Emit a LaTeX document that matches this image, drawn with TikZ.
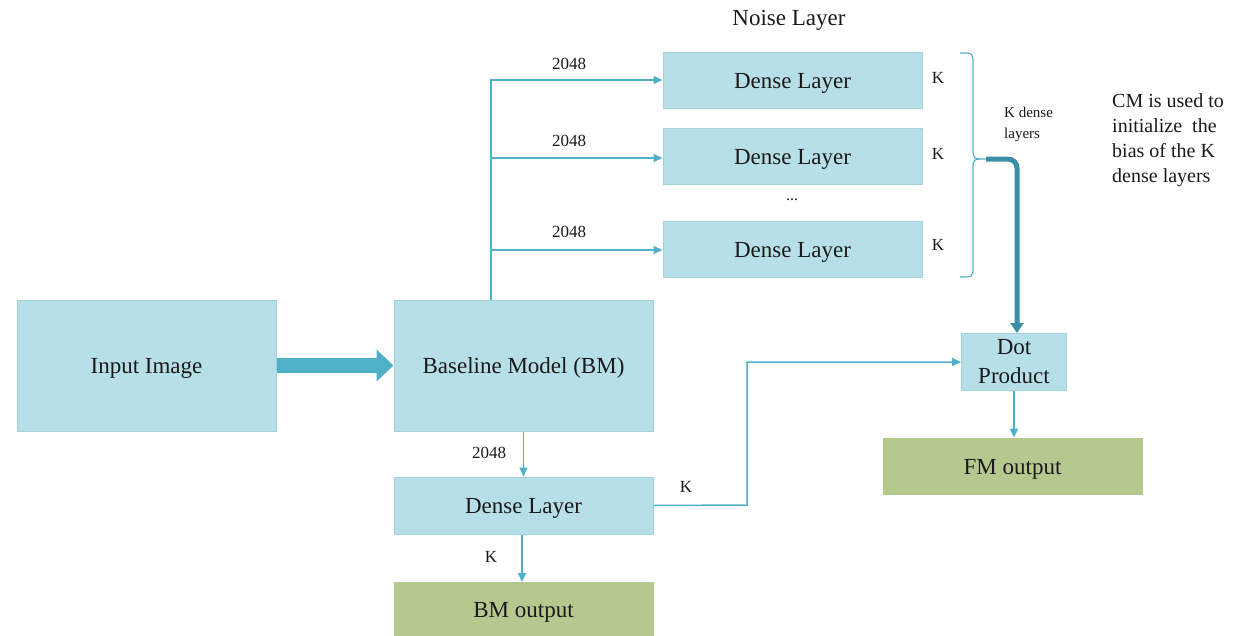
\documentclass[tikz,border=0pt]{standalone}
\usepackage{fontspec}
\setmainfont{Liberation Serif}
\usetikzlibrary{arrows.meta}
\definecolor{boxblue}{HTML}{B7DFE8}
\definecolor{boxedge}{HTML}{A2D3DE}
\definecolor{boxgreen}{HTML}{B5C98F}
\definecolor{linkblue}{HTML}{4FB1C8}
\definecolor{darkteal}{HTML}{3A8FA6}
\definecolor{ink}{HTML}{1A1A1A}
\tikzset{
  bluebox/.style={draw=boxedge, line width=1pt, fill=boxblue, inner sep=0pt, text=ink,
    font=\fontsize{23}{28}\selectfont},
  greenbox/.style={draw=boxgreen, line width=0.6pt, fill=boxgreen, inner sep=0pt, text=ink,
    font=\fontsize{23}{28}\selectfont},
  oneline/.style={text height=16pt, text depth=0pt},
  link/.style={draw=linkblue, line width=1.5pt, -{Triangle[length=9pt,width=8pt]}},
  plainlink/.style={draw=linkblue, line width=1.5pt},
  lbl/.style={text=ink, font=\fontsize{17}{20}\selectfont, inner sep=0pt},
}
\begin{document}
\begin{tikzpicture}[x=1pt, y=-1pt]
\useasboundingbox (0,0) rectangle (1243,635);

% main boxes
\node[bluebox, oneline, minimum width=259pt, minimum height=131pt] (in) at (146.5,365.5) {Input Image};
\node[bluebox, oneline, minimum width=259pt, minimum height=131pt] (bm) at (523.5,365.5) {Baseline Model (BM)};
\node[bluebox, oneline, minimum width=259pt, minimum height=57pt] (dl) at (523.5,505.5) {Dense Layer};
\node[greenbox, oneline, minimum width=259pt, minimum height=54pt, anchor=north] (bmo) at (523.5,582) {BM output};

% noise layer
\node[text=ink, font=\fontsize{23}{28}\selectfont] (nl) at (789,20) {Noise Layer};
\node[bluebox, oneline, minimum width=259pt, minimum height=56pt] (d1) at (792.5,80) {Dense Layer};
\node[bluebox, oneline, minimum width=259pt, minimum height=56pt] (d2) at (792.5,156.5) {Dense Layer};
\node[bluebox, oneline, minimum width=259pt, minimum height=56pt] (d3) at (792.5,249) {Dense Layer};
\node[text=ink, font=\fontsize{16}{18}\selectfont] (dots) at (792,200) {...};

% right part
\node[bluebox, minimum width=105pt, minimum height=57pt, align=center,
      font=\fontsize{23}{29}\selectfont] (dot) at (1014,362) {Dot\\Product};
\node[greenbox, oneline, minimum width=259pt, minimum height=56pt] (fm) at (1012.5,466) {FM output};

% fat arrow from input to baseline
\draw[draw=linkblue, line width=15pt, -{Triangle[length=17pt,width=31pt]}] (in.east) -- (bm.west);

% branches from the baseline model to the noise layer
\coordinate (split) at (491,300);
\draw[plainlink] (split) -- (491,80);
\draw[link] (split) |- (d1.west);
\draw[link] (491,158) -- (d2.west |- 0,158);
\draw[link] (491,250) -- (d3.west |- 0,250);
\node[lbl] (t1) at (569,64) {2048};
\node[lbl] (t2) at (569,141) {2048};
\node[lbl] (t3) at (569,232) {2048};

% K labels next to the noise dense layers
\node[lbl] (k1) at (938,78) {K};
\node[lbl] (k2) at (938,154) {K};
\node[lbl] (k3) at (938,245) {K};

% brace grouping the K dense layers
\coordinate (btop) at (960,53);
\coordinate (bbot) at (960,277);
\coordinate (btip) at (986,159);
\draw[draw=linkblue, line width=1.2pt]
  (btop) .. controls (973,53) .. (973,64) -- (973,148)
  .. controls (973,159) .. (btip)
  .. controls (973,159) .. (973,170) -- (973,266)
  .. controls (973,277) .. (bbot);
\node[text=ink, font=\fontsize{15}{21}\selectfont, align=left, anchor=west, inner sep=0pt] (kd) at (1004,124) {K dense\\layers};

% thick arrow from the brace to the dot product
\draw[draw=darkteal, line width=5pt, rounded corners=9pt, -{Triangle[length=10pt,width=13pt]}]
  (btip) -| ([xshift=3pt]dot.north);

% note on the right
\node[text=ink, font=\fontsize{20}{25}\selectfont, align=left, anchor=west, inner sep=0pt] (cm) at (1112,140)
  {CM is used to\\initialize\ \ the\\bias of the K\\dense layers};

% baseline model to its dense layer and output
\draw[link] (bm.south) -- (dl.north);
\node[lbl] (t4) at (489,453) {2048};
\draw[link] ([xshift=-1.5pt]dl.south) -- ([xshift=-1.5pt]bmo.north);
\node[lbl] (k4) at (491,557) {K};

% dense layer output to the dot product
\coordinate (bend) at (747,505);
\draw[link] (dl.east) -- (bend) |- (dot.west);
\node[lbl] (k5) at (686,487) {K};

% dot product to the final output
\draw[link] (dot.south) -- (dot.south |- fm.north);
\end{tikzpicture}
\end{document}
